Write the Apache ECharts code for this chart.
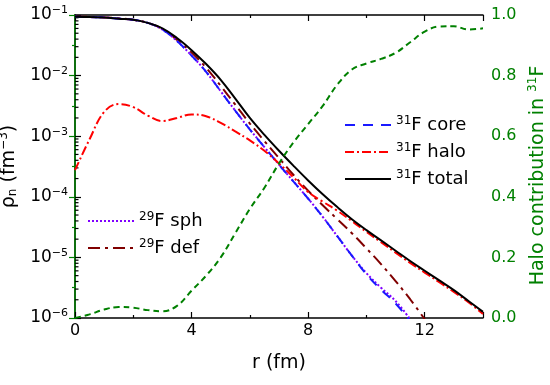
<!DOCTYPE html>
<html>
<head>
<meta charset="utf-8">
<script src="https://cdn.jsdelivr.net/npm/echarts@6/dist/echarts.min.js"></script>
<style>html,body{margin:0;padding:0;background:#fff}#c{width:550px;height:385px}</style>
</head>
<body>
<div id="c"></div>
<script>
// radius grid (fm)
const r = [0,0.5,1,1.5,2,2.5,3,3.5,4,4.5,5,5.5,6,6.5,7,7.5,8,8.5,9,9.5,10,10.5,11,11.5,12,12.5,13,13.5,14];
// neutron densities (fm^-3)
const core31 = [9.33e-2,9.23e-2,9.12e-2,8.71e-2,8.32e-2,7.41e-2,5.75e-2,3.72e-2,2.14e-2,1.15e-2,5.5e-3,2.63e-3,1.29e-3,6.61e-4,3.39e-4,1.78e-4,9.33e-5,4.68e-5,2.24e-5,1.07e-5,5.25e-6,2.95e-6,1.74e-6,8.91e-7];
const halo31 = [2.75e-4,8.91e-4,2.51e-3,3.39e-3,3.02e-3,2.19e-3,1.78e-3,2.0e-3,2.29e-3,2.14e-3,1.66e-3,1.2e-3,8.51e-4,5.75e-4,3.55e-4,2.09e-4,1.2e-4,8.32e-5,5.89e-5,3.98e-5,2.63e-5,1.78e-5,1.2e-5,8.13e-6,5.62e-6,3.89e-6,2.69e-6,1.82e-6,1.17e-6];
const total31 = [9.33e-2,9.23e-2,9.12e-2,8.71e-2,8.32e-2,7.41e-2,6.03e-2,4.17e-2,2.63e-2,1.55e-2,8.51e-3,4.17e-3,2.0e-3,1.05e-3,5.75e-4,3.24e-4,1.86e-4,1.1e-4,6.76e-5,4.27e-5,2.82e-5,1.91e-5,1.29e-5,8.71e-6,6.03e-6,4.17e-6,2.88e-6,1.91e-6,1.26e-6];
const sph29 = [9.33e-2,9.23e-2,9.12e-2,8.71e-2,8.32e-2,7.41e-2,5.75e-2,3.72e-2,2.14e-2,1.15e-2,5.5e-3,2.63e-3,1.29e-3,6.61e-4,3.39e-4,1.78e-4,9.33e-5,4.68e-5,2.24e-5,1.07e-5,5.5e-6,3.16e-6,1.91e-6,9.55e-7];
const def29 = [9.44e-2,9.33e-2,9.12e-2,8.81e-2,8.32e-2,7.41e-2,5.89e-2,3.89e-2,2.4e-2,1.35e-2,6.76e-3,3.31e-3,1.62e-3,8.32e-4,4.37e-4,2.29e-4,1.26e-4,7.24e-5,4.27e-5,2.51e-5,1.41e-5,7.76e-6,4.07e-6,2.04e-6,9.55e-7];
// halo contribution fraction (right axis)
const haloFrac = [0,0.012,0.028,0.036,0.034,0.026,0.022,0.04,0.09,0.14,0.2,0.28,0.36,0.43,0.51,0.58,0.64,0.7,0.77,0.82,0.84,0.855,0.875,0.91,0.945,0.962,0.963,0.952,0.956];
// tick labels
const xTicks = [0,4,8,12];
const yRightTicks = ['0.0','0.2','0.4','0.6','0.8','1.0'];

const pairs = vals => vals.map((v,i)=>[r[i], v]);
const minorVals = [];
for (let n=-6; n<=-2; n++) for (let k=2; k<=9; k++) minorVals.push([0, k*Math.pow(10,n)]);

const FONT = 'DejaVu Sans, sans-serif';
const GREEN = '#008000';
const supRich = {
  base:{fontSize:18, fontFamily:FONT, color:'#000'},
  sup:{fontSize:12, fontFamily:FONT, color:'#000', padding:[0,0,9,0]}
};
const legName = name => name.replace(/^(\d+)(.*)$/, '{sup|$1}{base|$2}');
const legCommon = {orient:'vertical', padding:0, itemWidth:46, itemHeight:14, itemGap:5,
  formatter:legName, itemStyle:{opacity:0},
  textStyle:{rich:supRich, fontFamily:FONT, fontSize:18, lineHeight:22}};

const chart = echarts.init(document.getElementById('c'), null, {renderer:'canvas'});
chart.setOption({
  animation:false,
  grid:{left:75, right:67, top:15, bottom:67, containLabel:false, outerBoundsMode:'none'},
  legend:[
    Object.assign({data:['31F core','31F halo','31F total'], left:344, top:114}, legCommon),
    Object.assign({data:['29F sph','29F def'], left:87, top:210}, legCommon)
  ],
  xAxis:[
    {type:'value', min:0, max:14, interval:4, position:'bottom',
     name:'r (fm)', nameLocation:'middle', nameGap:36,
     nameTextStyle:{fontSize:19, fontFamily:FONT, color:'#000'},
     axisLine:{lineStyle:{color:'#000', width:1.5}},
     axisTick:{inside:true, length:6, lineStyle:{color:'#000', width:1.2}},
     minorTick:{show:true, splitNumber:2, length:3, lineStyle:{color:'#000', width:1.2}},
     axisLabel:{fontSize:16, fontFamily:FONT, color:'#000', margin:5,
       formatter:v=> xTicks.indexOf(v)>=0 ? String(v) : ''},
     splitLine:{show:false}},
    {type:'value', min:0, max:14, interval:4, position:'top',
     axisLine:{lineStyle:{color:'#000', width:1.5}},
     axisTick:{inside:true, length:6, lineStyle:{color:'#000', width:1.2}},
     minorTick:{show:true, splitNumber:2, length:3, lineStyle:{color:'#000', width:1.2}},
     axisLabel:{show:false}, splitLine:{show:false}}
  ],
  yAxis:[
    {type:'log', min:1e-6, max:1e-1, logBase:10, position:'left',
     name:'{base|ρ}{sub|n}{base| (fm}{sup|−3}{base|)}', nameLocation:'middle', nameGap:40, nameRotate:90,
     nameTextStyle:{rich:{
       base:{fontSize:19, fontFamily:FONT, color:'#000'},
       sub:{fontSize:12, fontFamily:FONT, color:'#000', padding:[9,0,0,0]},
       sup:{fontSize:12, fontFamily:FONT, color:'#000', padding:[0,0,10,0]}}},
     axisLine:{show:true, lineStyle:{color:'#000', width:1.5}},
     axisTick:{inside:true, length:6, lineStyle:{color:'#000', width:1.2}},
     axisLabel:{margin:7, formatter:v=>'{base|10}{sup|−'+Math.round(-Math.log10(v))+'}',
       rich:{base:{fontSize:17, fontFamily:FONT, color:'#000'},
             sup:{fontSize:11, fontFamily:FONT, color:'#000', padding:[0,0,9,0]}}},
     splitLine:{show:false}},
    {type:'value', min:0, max:1, interval:0.2, position:'right',
     name:'Halo contribution in {sup|31}F', nameLocation:'middle', nameGap:35, nameRotate:90,
     nameTextStyle:{fontSize:19, fontFamily:FONT, color:GREEN, padding:[0,18,0,0],
       rich:{sup:{fontSize:12, fontFamily:FONT, color:GREEN, padding:[0,0,10,0]}}},
     axisLine:{show:true, lineStyle:{color:GREEN, width:1.5}},
     axisTick:{inside:true, length:6, lineStyle:{color:GREEN, width:1.2}},
     minorTick:{show:true, splitNumber:2, length:3, lineStyle:{color:GREEN, width:1.2}},
     axisLabel:{fontSize:16, fontFamily:FONT, color:GREEN, margin:8,
       formatter:v=> yRightTicks[Math.round(v*5)]},
     splitLine:{show:false}}
  ],
  series:[
    {type:'custom', silent:true, xAxisIndex:0, yAxisIndex:0, data:minorVals, clip:false,
     renderItem:(p,api)=>{const c=api.coord([0, api.value(1)]);
       return {type:'line', shape:{x1:c[0], y1:c[1], x2:c[0]+3.5, y2:c[1]}, style:{stroke:'#000', lineWidth:1.2}};}},
    {name:'29F def', type:'line', data:pairs(def29), smooth:0.4, showSymbol:false, symbol:'none',
     lineStyle:{color:'#800000', width:2, type:[12,5,3,5]}, itemStyle:{color:'#800000'}},
    {name:'29F sph', type:'line', data:pairs(sph29), smooth:0.4, showSymbol:false, symbol:'none',
     lineStyle:{color:'#8000ff', width:2, type:[2,2]}, itemStyle:{color:'#8000ff'}},
    {name:'31F core', type:'line', data:pairs(core31), smooth:0.4, showSymbol:false, symbol:'none',
     lineStyle:{color:'#1a1aff', width:2, type:[10,8]}, itemStyle:{color:'#1a1aff'}},
    {name:'31F halo', type:'line', data:pairs(halo31), smooth:0.4, showSymbol:false, symbol:'none',
     lineStyle:{color:'#ff0000', width:2, type:[9,3,2,3]}, itemStyle:{color:'#ff0000'}},
    {name:'31F total', type:'line', data:pairs(total31), smooth:0.4, showSymbol:false, symbol:'none',
     lineStyle:{color:'#000', width:2, type:'solid'}, itemStyle:{color:'#000'}},
    {name:'frac', type:'line', yAxisIndex:1, data:pairs(haloFrac), smooth:0.4, showSymbol:false, symbol:'none',
     lineStyle:{color:GREEN, width:2, type:[6,4]}, itemStyle:{color:GREEN}}
  ]
});
</script>
</body>
</html>
